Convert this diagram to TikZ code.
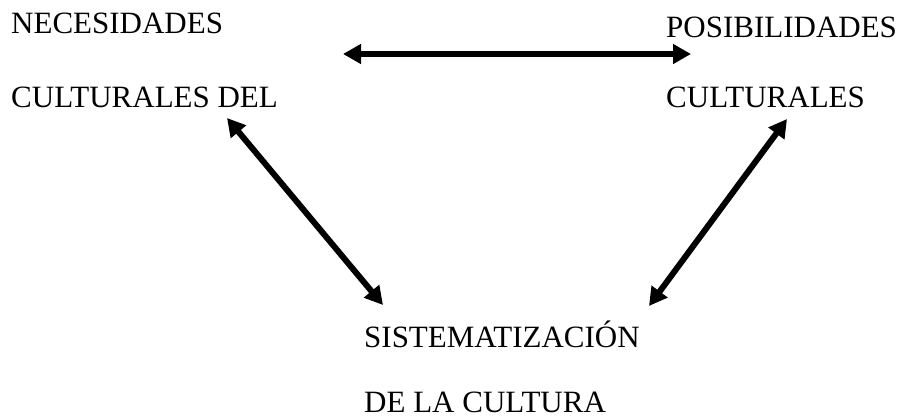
\documentclass[tikz,border=0pt]{standalone}
\usepackage{fontspec}
\setmainfont{Liberation Serif}
\usetikzlibrary{arrows.meta}
\begin{document}
\begin{tikzpicture}[x=1pt,y=-1pt,
  lbl/.style={anchor=base west,inner sep=0pt,font=\fontsize{31}{36}\selectfont},
  dbl/.style={line width=6pt,{Triangle[length=18pt,width=19pt]}-{Triangle[length=18pt,width=19pt]}}]
\useasboundingbox (0,0) rectangle (900,417);
\node[lbl] (n1) at (11,34) {NECESIDADES};
\node[lbl] (n2) at (11,108) {CULTURALES DEL};
\node[lbl] (p1) at (666,38) {POSIBILIDADES};
\node[lbl] (p2) at (666,108) {CULTURALES};
\node[lbl] (s1) at (364,347) {SISTEMATIZACIÓN};
\node[lbl] (s2) at (364,412) {DE LA CULTURA};
\coordinate (ta) at (343,54);
\coordinate (tb) at (691,54);
\coordinate (la) at (227,118);
\coordinate (lb) at (383,305);
\coordinate (ra) at (787,119);
\coordinate (rb) at (649,306);
\draw[dbl] (ta) -- (tb);
\draw[dbl] (la) -- (lb);
\draw[dbl] (ra) -- (rb);
\end{tikzpicture}
\end{document}
